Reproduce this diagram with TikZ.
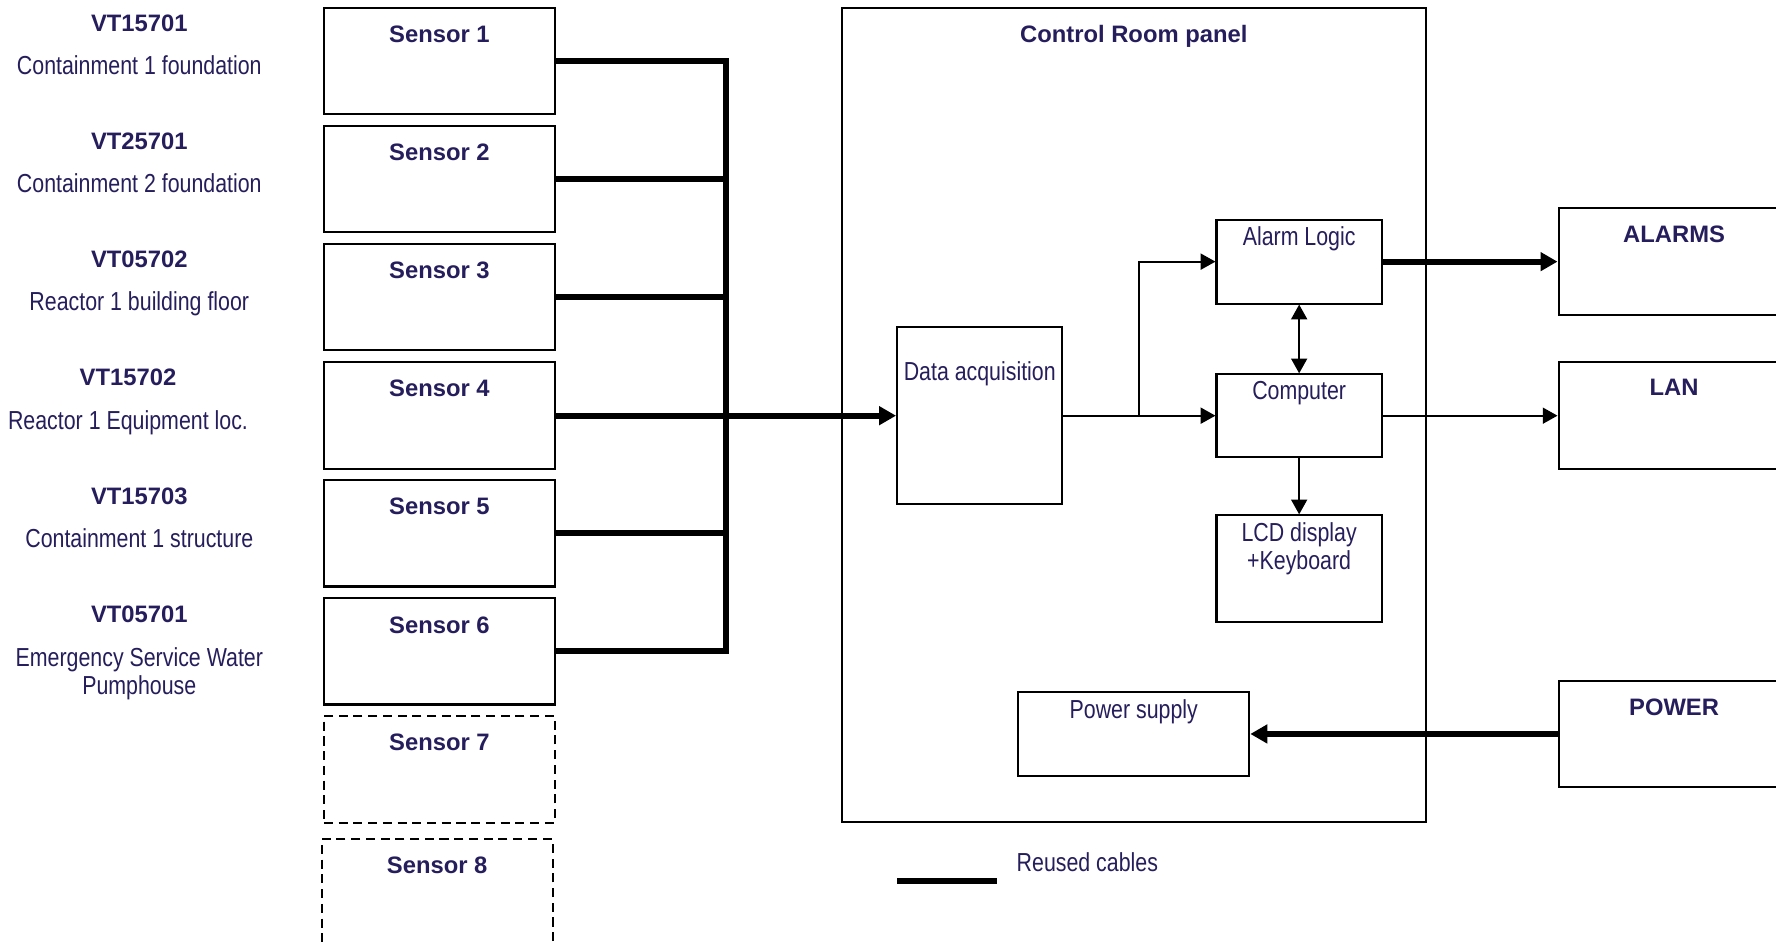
\documentclass[tikz,border=0pt]{standalone}
\usepackage{fontspec}
\setmainfont{Liberation Sans}
\newfontfamily\narrowfont[FakeStretch=0.82]{Liberation Sans}
\usetikzlibrary{arrows.meta}
\definecolor{navytext}{RGB}{38,30,92}
\tikzset{
  box/.style={draw=black, line width=1.8pt, fill=white, inner sep=0pt},
  dbox/.style={box, dash pattern=on 8pt off 5pt},
  btitle/.style={anchor=base, inner sep=0pt, text=navytext, font=\fontsize{21}{25}\selectfont\bfseries},
  ntext/.style={anchor=base, inner sep=0pt, text=navytext, font=\fontsize{23}{27}\selectfont\narrowfont},
  thick cable/.style={line width=5.5pt},
  thin link/.style={line width=1.8pt},
  bigarrow/.style={thick cable, -{Triangle[length=15pt,width=16pt]}},
  smallarrow/.style={thin link, -{Triangle[length=13pt,width=14pt]}},
  smalldouble/.style={thin link, {Triangle[length=13pt,width=14pt]}-{Triangle[length=13pt,width=14pt]}},
}
\begin{document}
\begin{tikzpicture}[x=1pt,y=-1pt]
\useasboundingbox (0,0) rectangle (1568,832);
\fill[white] (0,0) rectangle (1568,832);

% Left labels
\node[btitle] (v1) at (123,27.5) {VT15701};
\node[ntext] (d1) at (123,66) {Containment 1 foundation};
\node[btitle] (v2) at (123,131.7) {VT25701};
\node[ntext] (d2) at (123,170.2) {Containment 2 foundation};
\node[btitle] (v3) at (123,236) {VT05702};
\node[ntext] (d3) at (123,274.5) {Reactor 1 building floor};
\node[btitle] (v4) at (113,340.2) {VT15702};
\node[ntext] (d4) at (113,379.5) {Reactor 1 Equipment loc.};
\node[btitle] (v5) at (123,445) {VT15703};
\node[ntext] (d5) at (123,483.5) {Containment 1 structure};
\node[btitle] (v6) at (123,549.5) {VT05701};
\node[ntext] (d6a) at (123,588) {Emergency Service Water};
\node[ntext] (d6b) at (123,613) {Pumphouse};

% Sensor boxes
\node[box, minimum width=204pt, minimum height=94pt] (s1) at (388,54) {};
\node[box, minimum width=204pt, minimum height=94pt] (s2) at (388,158.2) {};
\node[box, minimum width=204pt, minimum height=94pt] (s3) at (388,262.4) {};
\node[box, minimum width=204pt, minimum height=94pt] (s4) at (388,367) {};
\node[box, minimum width=204pt, minimum height=94pt] (s5) at (388,470.8) {};
\node[box, minimum width=204pt, minimum height=94pt] (s6) at (388,575) {};
\node[dbox, minimum width=204pt, minimum height=94pt] (s7) at (388,679.2) {};
\node[dbox, minimum width=204pt, minimum height=94pt] (s8) at (386,788) {};
\node[btitle] (s1t) at (388,37.5) {Sensor 1};
\node[btitle] (s2t) at (388,141.7) {Sensor 2};
\node[btitle] (s3t) at (388,245.9) {Sensor 3};
\node[btitle] (s4t) at (388,350.1) {Sensor 4};
\node[btitle] (s5t) at (388,454.3) {Sensor 5};
\node[btitle] (s6t) at (388,559) {Sensor 6};
\node[btitle] (s7t) at (388,662.5) {Sensor 7};
\node[btitle] (s8t) at (386,771.5) {Sensor 8};

% Control room panel
\node[box, minimum width=516pt, minimum height=719pt] (panel) at (1001,366.5) {};
\node[btitle] (panelt) at (1001,37.5) {Control Room panel};

\node[box, minimum width=146pt, minimum height=156pt] (dacq) at (865,367) {};
\node[ntext] (dacqt) at (865,336) {Data acquisition};
\node[box, minimum width=146pt, minimum height=74pt] (alarm) at (1147,231) {};
\node[ntext] (alarmt) at (1147,217) {Alarm Logic};
\node[box, minimum width=146pt, minimum height=73pt] (comp) at (1147,367) {};
\node[ntext] (compt) at (1147,353) {Computer};
\node[box, minimum width=146pt, minimum height=94pt] (lcd) at (1147,502) {};
\node[ntext] (lcdt1) at (1147,478) {LCD display};
\node[ntext] (lcdt2) at (1147,503) {+Keyboard};
\node[box, minimum width=204pt, minimum height=74pt] (psu) at (1001,648) {};
\node[ntext] (psut) at (1001,634) {Power supply};

% Right boxes
\node[box, minimum width=204pt, minimum height=94pt] (alarms) at (1478,231) {};
\node[btitle] (alarmst) at (1478,214.5) {ALARMS};
\node[box, minimum width=204pt, minimum height=94pt] (lan) at (1478,367) {};
\node[btitle] (lant) at (1478,349.5) {LAN};
\node[box, minimum width=204pt, minimum height=94pt] (power) at (1478,648) {};
\node[btitle] (powert) at (1478,631.5) {POWER};

% Cable bus
\coordinate (bustop) at (641,54);
\coordinate (busbot) at (641,575);
\coordinate (busmid) at (641,367);
\draw[thick cable] (s1.east) -- (s1.east -| bustop);
\draw[thick cable] (s2.east) -- (s2.east -| bustop);
\draw[thick cable] (s3.east) -- (s3.east -| bustop);
\draw[thick cable] (s4.east) -- (s4.east -| bustop);
\draw[thick cable] (s5.east) -- (s5.east -| bustop);
\draw[thick cable] (s6.east) -- (s6.east -| bustop);
\draw[thick cable, line cap=rect] (bustop) -- (busbot);
\draw[bigarrow] (busmid) -- (dacq.west);

% Internal links
\coordinate (branch) at (1006,367);
\draw[smallarrow] (dacq.east) -- (comp.west);
\draw[smallarrow] (branch) |- (alarm.west);
\draw[smalldouble] (alarm.south) -- (comp.north);
\draw[smallarrow] (comp.south) -- (lcd.north);

% External links
\draw[bigarrow] (alarm.east) -- (alarms.west);
\draw[smallarrow] (comp.east) -- (lan.west);
\draw[bigarrow] (power.west) -- (psu.east);

% Legend
\coordinate (leg1) at (792,778);
\coordinate (leg2) at (880,778);
\draw[thick cable] (leg1) -- (leg2);
\node[ntext] (legt) at (960,769) {Reused cables};
\end{tikzpicture}
\end{document}
